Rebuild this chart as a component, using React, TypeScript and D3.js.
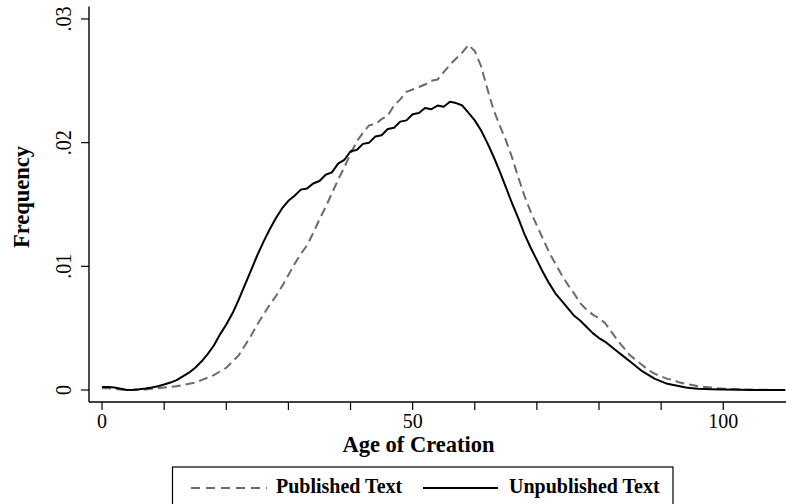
import React from "react";
import * as d3 from "d3";

// age grid (years) shared by both densities
const ages = [
  0, 1, 2, 3, 4, 5, 6, 7, 8, 9, 10, 11, 12, 13, 14, 15, 16, 17, 18, 19,
  20, 21, 22, 23, 24, 25, 26, 27, 28, 29, 30, 31, 32, 33, 34, 35, 36, 37, 38, 39,
  40, 41, 42, 43, 44, 45, 46, 47, 48, 49, 50, 51, 52, 53, 54, 55, 56, 57, 58, 59,
  60, 61, 62, 63, 64, 65, 66, 67, 68, 69, 70, 71, 72, 73, 74, 75, 76, 77, 78, 79,
  80, 81, 82, 83, 84, 85, 86, 87, 88, 89, 90, 91, 92, 93, 94, 95, 96, 98, 100, 105, 110,
];

const unpublished = [
  0.00025, 0.00024, 0.0002, 0.0001, 0.0, 0.00002, 0.00006, 0.00012, 0.0002, 0.0003,
  0.00045, 0.0006, 0.0008, 0.0011, 0.0014, 0.0018, 0.0023, 0.0029, 0.0036, 0.0045,
  0.0053, 0.0062, 0.0073, 0.0085, 0.0097, 0.0109, 0.012, 0.013, 0.0139, 0.0147,
  0.0153, 0.0157, 0.0162, 0.0163, 0.0167, 0.0169, 0.0174, 0.0176, 0.0183, 0.0186,
  0.0193, 0.0194, 0.0199, 0.02, 0.0205, 0.0206, 0.0211, 0.0212, 0.0217, 0.0218,
  0.0223, 0.0224, 0.0228, 0.0227, 0.023, 0.0229, 0.0233, 0.0232, 0.023, 0.0224,
  0.0218, 0.021, 0.02, 0.0189, 0.0177, 0.0164, 0.0151, 0.0139, 0.0126, 0.0115,
  0.0105, 0.0095, 0.0086, 0.0078, 0.0072, 0.0066, 0.006, 0.0056, 0.0051, 0.0046,
  0.0042, 0.0039, 0.0035, 0.0031, 0.0027, 0.0023, 0.0019, 0.0015, 0.0012, 0.0009,
  0.0007, 0.0005, 0.0004, 0.0003, 0.0002, 0.00015, 0.0001, 0.00006, 0.00004, 0.00001, 0.0,
];

const published = [
  0.00015, 0.00015, 0.0001, 0.00005, 0.0, 0.0, 0.00002, 0.00005, 0.0001, 0.00014,
  0.0002, 0.00025, 0.0003, 0.0004, 0.0005, 0.0006, 0.0008, 0.001, 0.0012, 0.0015,
  0.0018, 0.0023, 0.0028, 0.0036, 0.0044, 0.0053, 0.0061, 0.0069, 0.0076, 0.0084,
  0.0093, 0.0102, 0.011, 0.0117, 0.0127, 0.0138, 0.0148, 0.0159, 0.017, 0.018,
  0.0191, 0.0201, 0.0208, 0.0214, 0.0215, 0.0219, 0.0222, 0.023, 0.0235, 0.0241,
  0.0243, 0.0245, 0.0247, 0.025, 0.0251, 0.0257, 0.0263, 0.0268, 0.0273, 0.0279,
  0.0274, 0.0262, 0.0244, 0.0227, 0.0214, 0.0202, 0.0188, 0.0172, 0.0157, 0.0144,
  0.0133, 0.0122, 0.0111, 0.0102, 0.0093, 0.0085, 0.0078, 0.007, 0.0065, 0.0061,
  0.0058, 0.0054, 0.0047, 0.004, 0.0034, 0.0028, 0.0024, 0.002, 0.0016, 0.0013,
  0.0011, 0.0009, 0.0008, 0.0006, 0.0005, 0.0004, 0.0003, 0.0002, 0.0001, 0.00002, 0.0,
];

const xTicks = [0, 50, 100];
const xMinorTicks = [10, 20, 30, 40, 60, 70, 80, 90];
const yTicks = [0, 0.01, 0.02, 0.03];
const yTickLabels = ["0", ".01", ".02", ".03"];

const W = 786;
const H = 504;
const serif = "'Liberation Serif', 'Times New Roman', serif";

export default function App() {
  const x = d3.scaleLinear().domain([-2.1, 110.1]).range([89, 786]);
  const y = d3.scaleLinear().domain([-0.00097, 0.031]).range([402, 6.6]);

  const line = d3
    .line<number>()
    .x((_, i) => x(ages[i]))
    .y((d) => y(d));

  const axisY = 402;
  const axisX = 89;

  return (
    <svg
      width={W}
      height={H}
      style={{ position: "absolute", left: 0, top: 0, background: "#fff" }}
      fontFamily={serif}
    >
      <rect width={W} height={H} fill="#fff" />

      {/* curves */}
      <path d={line(published) || ""} fill="none" stroke="#6b6b6b" strokeWidth={2} strokeDasharray="9,5" />
      <path d={line(unpublished) || ""} fill="none" stroke="#000" strokeWidth={2} strokeLinejoin="round" />

      {/* x axis */}
      <line x1={axisX} x2={W} y1={axisY} y2={axisY} stroke="#000" strokeWidth={1.4} />
      {xTicks.concat(xMinorTicks).map((t) => (
        <line key={"xt" + t} x1={x(t)} x2={x(t)} y1={axisY} y2={axisY + 8} stroke="#000" strokeWidth={1.2} />
      ))}
      {xTicks.map((t) => (
        <text key={"xl" + t} x={x(t)} y={428} textAnchor="middle" fontSize={20}>
          {t}
        </text>
      ))}
      <text x={418.5} y={452} textAnchor="middle" fontSize={22.5} fontWeight="bold">
        Age of Creation
      </text>

      {/* y axis */}
      <line x1={axisX} x2={axisX} y1={6.6} y2={axisY} stroke="#000" strokeWidth={1.4} />
      {yTicks.map((t, i) => (
        <g key={"yt" + t}>
          <line x1={axisX - 8} x2={axisX} y1={y(t)} y2={y(t)} stroke="#000" strokeWidth={1.2} />
          <text
            transform={`translate(71,${y(t)}) rotate(-90) scale(1,1.15)`}
            textAnchor="middle"
            fontSize={20}
          >
            {yTickLabels[i]}
          </text>
        </g>
      ))}
      <text transform="translate(29,197) rotate(-90)" textAnchor="middle" fontSize={22.5} fontWeight="bold">
        Frequency
      </text>

      {/* legend */}
      <rect x={172.5} y={467} width={500.5} height={40} fill="#fff" stroke="#000" strokeWidth={1.2} />
      <line x1={191} x2={267} y1={488} y2={488} stroke="#6b6b6b" strokeWidth={2} strokeDasharray="9,6" />
      <text x={276} y={493} fontSize={20} fontWeight="bold">
        Published Text
      </text>
      <line x1={423} x2={498} y1={488} y2={488} stroke="#000" strokeWidth={2} />
      <text x={509} y={493} fontSize={20} fontWeight="bold">
        Unpublished Text
      </text>
    </svg>
  );
}
